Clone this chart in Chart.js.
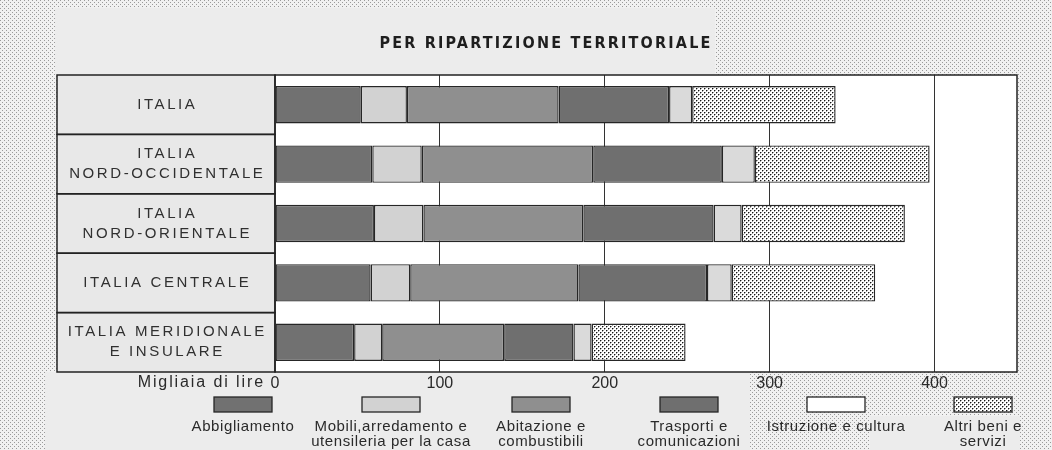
<!DOCTYPE html>
<html>
<head>
<meta charset="utf-8">
<script src="https://cdn.jsdelivr.net/npm/chart.js@4.4.1/dist/chart.umd.min.js"></script>
<style>
  html, body { margin: 0; padding: 0; background: #fff; }
  #wrap { width: 1052px; height: 450px; position: relative; }
  canvas { display: block; }
</style>
</head>
<body>
<div id="wrap"><canvas id="chart" width="1052" height="450"></canvas></div>
<script>
// Spesa media mensile per famiglia, per ripartizione territoriale (migliaia di lire)
const title = 'PER RIPARTIZIONE TERRITORIALE';
const regions = [
  ['ITALIA'],
  ['ITALIA', 'NORD-OCCIDENTALE'],
  ['ITALIA', 'NORD-ORIENTALE'],
  ['ITALIA CENTRALE'],
  ['ITALIA MERIDIONALE', 'E INSULARE']
];
const categories = [
  ['Abbigliamento'],
  ['Mobili,arredamento e', 'utensileria per la casa'],
  ['Abitazione e', 'combustibili'],
  ['Trasporti e', 'comunicazioni'],
  ['Istruzione e cultura'],
  ['Altri beni e', 'servizi']
];
const abbigliamento = [52, 59, 60, 58, 48];
const mobili        = [28, 30, 30, 24, 17];
const abitazione    = [92, 104, 97, 102, 74];
const trasporti     = [67, 78, 79, 78, 42];
const istruzione    = [14, 20, 17, 15, 11];
const altriBeni     = [87, 106, 99, 87, 57];
const xTicks = [0, 100, 200, 300, 400];
const xMax = 450;
const unitLabel = 'Migliaia di lire';

const canvas = document.getElementById('chart');
const ctx = canvas.getContext('2d');

// halftone tiles: a dark core pixel with a softer pixel beside it
function dotTile(bg, dot, halo, step) {
  const c = document.createElement('canvas');
  c.width = step; c.height = step;
  const g = c.getContext('2d');
  g.fillStyle = bg; g.fillRect(0, 0, step, step);
  [[0, 0], [step / 2, step / 2]].forEach(([x, y]) => {
    g.fillStyle = dot; g.fillRect(x, y, 1, 1);
    if (halo) { g.fillStyle = halo; g.fillRect(x + 1, y, 1, 1); g.fillRect(x, y + 1, 1, 1); }
  });
  return ctx.createPattern(c, 'repeat');
}
const barDots = dotTile('#ffffff', '#151515', '#a0a0a0', 4);
const paperDots = dotTile('#f1f1f1', '#9a9a9a', null, 4);

const seriesValues = [abbigliamento, mobili, abitazione, trasporti, istruzione, altriBeni];
const seriesFill = ['#717171', '#d2d2d2', '#8f8f8f', '#6f6f6f', '#dadada', barDots];
const swatchFill = ['#717171', '#d2d2d2', '#8f8f8f', '#6f6f6f', '#ffffff', barDots];

const datasets = seriesValues.map((vals, i) => ({
  label: categories[i].join(' '),
  data: vals,
  backgroundColor: seriesFill[i],
  borderColor: '#262626',
  borderWidth: 1.4,
  borderSkipped: false,
  barPercentage: 0.63,
  categoryPercentage: 1
}));

const FONT = '"Liberation Sans", Arial, sans-serif';

const paperPlugin = {
  id: 'paper',
  beforeDraw(chart) {
    const c = chart.ctx, a = chart.chartArea;
    c.save();
    c.fillStyle = paperDots;
    c.fillRect(0, 0, chart.width, chart.height);
    c.fillStyle = '#ececec';
    c.fillRect(55, 8, 660, 67);
    c.fillRect(45, a.bottom, 705, chart.height - a.bottom);
    c.fillRect(870, 416, 150, chart.height - 416);
    // label column
    c.fillStyle = '#e8e8e8';
    c.fillRect(57, a.top, a.left - 57, a.bottom - a.top);
    c.fillStyle = '#ffffff';
    c.fillRect(a.left, a.top, a.right - a.left, a.bottom - a.top);
    c.restore();
  }
};

const framePlugin = {
  id: 'frame',
  afterDatasetsDraw(chart) {
    const c = chart.ctx, a = chart.chartArea;
    const ys = chart.scales.y, xs = chart.scales.x;
    const n = regions.length;
    const rowH = (a.bottom - a.top) / n;
    const boxLeft = 57;
    c.save();
    c.strokeStyle = '#222';
    c.lineWidth = 1.5;
    // row boxes
    for (let i = 0; i < n; i++) {
      const cy = ys.getPixelForValue(i);
      c.strokeRect(boxLeft, cy - rowH / 2, a.left - boxLeft, rowH);
    }
    c.strokeRect(a.left, a.top, a.right - a.left, a.bottom - a.top);

    // region names
    c.fillStyle = '#303030';
    c.font = '15px ' + FONT;
    c.letterSpacing = '2.6px';
    c.textAlign = 'center';
    c.textBaseline = 'middle';
    const cx = (boxLeft + a.left) / 2;
    regions.forEach((lines, i) => {
      const cy = ys.getPixelForValue(i);
      const lh = 20;
      lines.forEach((t, k) => {
        c.fillText(t, cx + 1.3, cy + (k - (lines.length - 1) / 2) * lh);
      });
    });

    // title
    c.font = 'bold 16px "DejaVu Sans Condensed", "DejaVu Sans", sans-serif';
    c.letterSpacing = '2.2px';
    c.fillStyle = '#1e1e1e';
    c.fillText(title, 546, 44);

    // unit label beside the zero tick
    c.font = '16px ' + FONT;
    c.letterSpacing = '1.9px';
    c.textAlign = 'right';
    c.fillStyle = '#2a2a2a';
    c.fillText(unitLabel, xs.getPixelForValue(0) - 10, 383);

    // legend: swatch above, caption below
    const centers = [243, 391, 541, 689, 836, 983];
    const sw = 58, sh = 15, sy = 397;
    c.textAlign = 'center';
    c.font = '15px ' + FONT;
    c.letterSpacing = '0.6px';
    categories.forEach((lines, i) => {
      const x0 = centers[i] - sw / 2;
      c.fillStyle = swatchFill[i];
      c.fillRect(x0, sy, sw, sh);
      c.lineWidth = 1.3;
      c.strokeStyle = '#262626';
      c.strokeRect(x0, sy, sw, sh);
      c.fillStyle = '#2a2a2a';
      lines.forEach((t, k) => c.fillText(t, centers[i], 427 + k * 15));
    });
    c.restore();
  }
};

new Chart(ctx, {
  type: 'bar',
  data: {
    labels: regions.map(r => r.join(' ')),
    datasets
  },
  options: {
    indexAxis: 'y',
    responsive: false,
    animation: false,
    devicePixelRatio: 1,
    layout: { padding: { left: 275, right: 35, top: 75, bottom: 0 } },
    plugins: { legend: { display: false }, tooltip: { enabled: false } },
    scales: {
      x: {
        stacked: true,
        min: 0,
        max: xMax,
        afterBuildTicks: s => { s.ticks = xTicks.map(v => ({ value: v })); },
        afterFit: s => { s.height = 78; },
        grid: {
          drawTicks: false,
          lineWidth: 1,
          color: c => (c.tick && c.tick.value === 0) ? 'rgba(0,0,0,0)' : '#333'
        },
        border: { display: false },
        ticks: {
          padding: 2,
          color: '#2a2a2a',
          font: { family: FONT, size: 16 }
        }
      },
      y: { stacked: true, display: false }
    }
  },
  plugins: [paperPlugin, framePlugin]
});
</script>
</body>
</html>
